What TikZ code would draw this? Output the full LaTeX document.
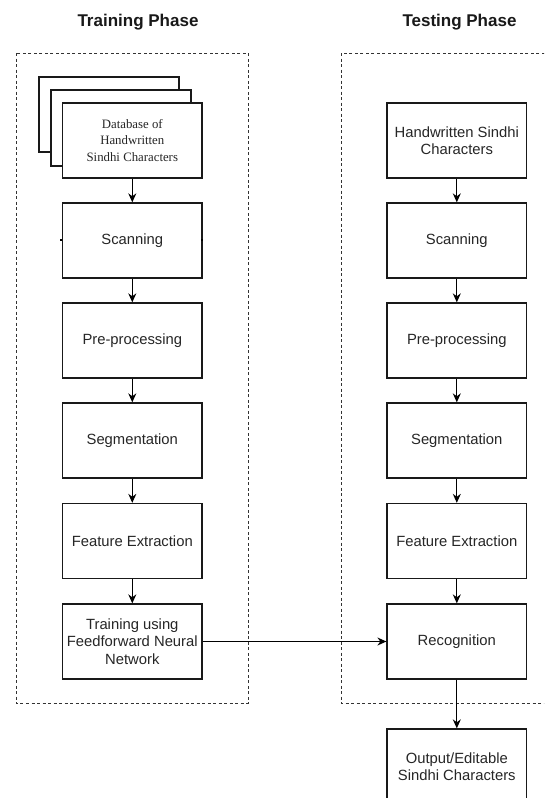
\documentclass[tikz,border=0pt]{standalone}
\usepackage{fontspec}
\setmainfont{Liberation Sans}
\newfontfamily\serifdb{Liberation Serif}
\usetikzlibrary{arrows.meta}
\begin{document}
\begin{tikzpicture}[x=1pt,y=-1pt,
  box/.style={draw=black!90, line width=1.3pt, fill=white, minimum width=139.5pt, minimum height=75pt, inner sep=2pt, align=center, font=\fontsize{14.8}{17.5}\selectfont, text=black!85},
  dbbox/.style={box, font=\serifdb\fontsize{12.8}{16.2}\selectfont},
  sheet/.style={draw=black!90, line width=1.3pt, fill=white},
  flow/.style={-{Stealth[length=9pt,width=8pt]}, line width=1.2pt},
  phase/.style={draw=black!80, line width=1pt, dash pattern=on 3pt off 2.5pt},
  title/.style={font=\fontsize{17}{20}\selectfont\bfseries, text=black!90}]
\useasboundingbox (0,0) rectangle (544,798);
\clip (0,0) rectangle (544,798);
\fill[white] (0,0) rectangle (544,798);

% titles
\node[title] (ttrain) at (138,22) {Training Phase};
\node[title] (ttest) at (459.5,22) {Testing Phase};

% phase frames
\draw[phase] (16,53) rectangle (248,703);
\draw[phase] (341,53) rectangle (560,703);

% training column
\draw[sheet] (39,77) rectangle (179,152);
\draw[sheet] (51,90) rectangle (191,166);
\node[dbbox] (db) at (132.3,140.5) {Database of\\Handwritten\\Sindhi Characters};
\node[box] (scanL) at (132.3,240.5) {Scanning};
\node[box] (preL) at (132.3,340.5) {Pre-processing};
\node[box] (segL) at (132.3,440.5) {Segmentation};
\node[box] (feL) at (132.3,541) {Feature Extraction};
\node[box] (train) at (132.3,641.5) {Training using\\Feedforward Neural\\Network};

% testing column
\node[box] (hw) at (456.8,140.5) {Handwritten Sindhi\\Characters};
\node[box] (scanR) at (456.8,240.5) {Scanning};
\node[box] (preR) at (456.8,340.5) {Pre-processing};
\node[box] (segR) at (456.8,440.5) {Segmentation};
\node[box] (feR) at (456.8,541) {Feature Extraction};
\node[box] (rec) at (456.8,641.5) {Recognition};
\node[box] (out) at (456.8,766.5) {Output/Editable\\Sindhi Characters};

% small marks on the Scanning box
\fill ([xshift=-1.8pt]scanL.west) rectangle ++(1.8,-2);
\fill ([xshift=-2pt]scanL.east) rectangle ++(1.8,-2);

% connectors
\draw[flow] (db) -- (scanL);
\draw[flow] (scanL) -- (preL);
\draw[flow] (preL) -- (segL);
\draw[flow] (segL) -- (feL);
\draw[flow] (feL) -- (train);
\draw[flow] (hw) -- (scanR);
\draw[flow] (scanR) -- (preR);
\draw[flow] (preR) -- (segR);
\draw[flow] (segR) -- (feR);
\draw[flow] (feR) -- (rec);
\draw[flow] (rec) -- (out);
\draw[flow] (train) -- (rec);
\end{tikzpicture}
\end{document}
